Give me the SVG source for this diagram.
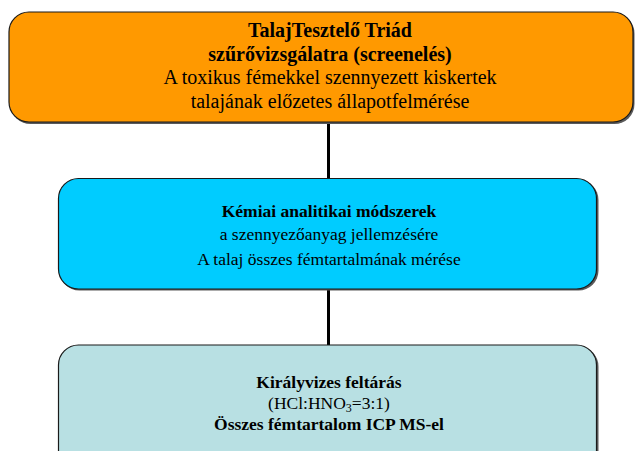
<svg xmlns="http://www.w3.org/2000/svg" width="635" height="451" viewBox="0 0 635 451">
  <style>
    .box { stroke: #1a1a1a; stroke-width: 1.2; }
    .shadow { fill: #5a5a5a; }
    .t { font-family: "Liberation Serif", "Times New Roman", serif; fill: #000; text-anchor: middle; }
    .b { font-weight: bold; }
    .conn { stroke: #000; stroke-width: 3; fill: none; }
  </style>
  <rect width="635" height="451" fill="#fff"/>

  <g id="connectors">
    <line class="conn" x1="328.5" y1="122" x2="328.5" y2="179"/>
    <line class="conn" x1="328.5" y1="289" x2="328.5" y2="345"/>
  </g>

  <g id="node-screening">
    <rect class="shadow" x="10.5" y="13.5" width="624" height="110.5" rx="20"/>
    <rect class="box" x="9" y="12" width="624" height="110" rx="20" fill="#FF9900"/>
    <text class="t b" x="330" y="37" font-size="20">TalajTesztelő Triád</text>
    <text class="t b" x="330" y="61" font-size="20">szűrővizsgálatra (screenelés)</text>
    <text class="t" x="330" y="84" font-size="20">A toxikus fémekkel szennyezett kiskertek</text>
    <text class="t" x="330" y="108" font-size="20">talajának előzetes állapotfelmérése</text>
  </g>

  <g id="node-chemical">
    <rect class="shadow" x="59.5" y="180" width="539" height="110.5" rx="20"/>
    <rect class="box" x="58.5" y="178.5" width="538" height="110.5" rx="20" fill="#00CCFF"/>
    <text class="t b" x="329" y="217" font-size="17.5">Kémiai analitikai módszerek</text>
    <text class="t" x="329" y="239.5" font-size="17.5">a szennyezőanyag jellemzésére</text>
    <text class="t" x="329" y="265" font-size="17.5">A talaj összes fémtartalmának mérése</text>
  </g>

  <g id="node-digestion">
    <rect class="shadow" x="59.5" y="346.5" width="539" height="130" rx="20"/>
    <rect class="box" x="58.5" y="345" width="538" height="130" rx="20" fill="#B8E0E3"/>
    <text class="t b" x="329" y="388" font-size="17.5">Királyvizes feltárás</text>
    <text class="t" x="329" y="409" font-size="17.5">(HCl:HNO<tspan font-size="12" dy="3">3</tspan><tspan dy="-3">=3:1)</tspan></text>
    <text class="t b" x="329" y="430" font-size="17.5">Összes fémtartalom ICP MS-el</text>
  </g>
</svg>
